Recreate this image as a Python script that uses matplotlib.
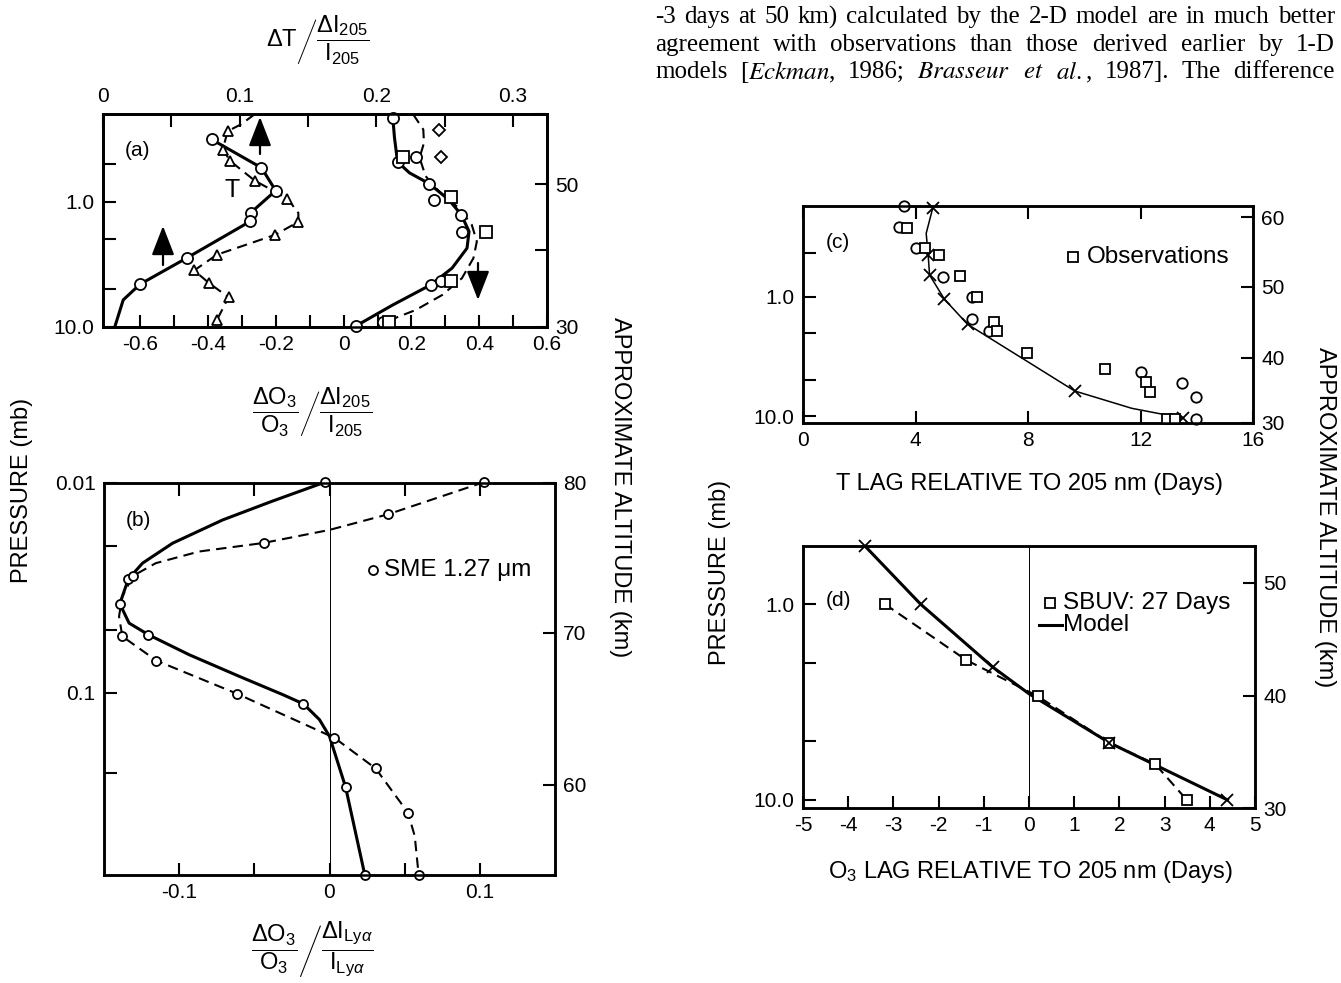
import matplotlib
matplotlib.use('Agg')
import matplotlib.pyplot as plt
from matplotlib.ticker import NullLocator

plt.rcParams['font.family'] = ['Liberation Sans', 'DejaVu Sans']
plt.rcParams['mathtext.fontset'] = 'custom'
plt.rcParams['mathtext.rm'] = 'Liberation Sans'
plt.rcParams['mathtext.it'] = 'Liberation Sans:italic'
plt.rcParams['mathtext.bf'] = 'Liberation Sans:bold'
plt.rcParams['xtick.direction'] = 'in'
plt.rcParams['ytick.direction'] = 'in'
plt.rcParams['axes.linewidth'] = 1.8

# ---- panel (a): temperature response (top axis) ----
a_tmod_val = [0.0795, 0.116, 0.1264, 0.108, 0.1076, 0.0612, 0.0271, 0.0148, 0.0086]
a_tmod_p = [0.319, 0.537, 0.817, 1.23, 1.44, 2.82, 4.56, 6.08, 10.0]
a_tobs_val = [0.111, 0.101, 0.0913, 0.0876, 0.0933, 0.111, 0.135, 0.143, 0.143,
              0.126, 0.0834, 0.0667, 0.0778, 0.0919, 0.0834]
a_tobs_p = [0.201, 0.242, 0.274, 0.384, 0.476, 0.679, 0.946, 1.23, 1.45,
            1.84, 2.65, 3.54, 4.48, 5.79, 8.79]

# ---- panel (a): ozone response (bottom axis) ----
a_omod_val = [0.130, 0.145, 0.150, 0.159, 0.194, 0.252, 0.310, 0.347, 0.370,
              0.364, 0.320, 0.257, 0.145, 0.036]
a_omod_p = [0.201, 0.214, 0.309, 0.481, 0.589, 0.718, 0.964, 1.27, 1.73,
            2.35, 3.39, 4.61, 6.67, 9.82]
a_odash_val = [0.205, 0.235, 0.237, 0.224, 0.242, 0.281, 0.339, 0.378, 0.393,
               0.383, 0.349, 0.291, 0.213, 0.125]
a_odash_p = [0.201, 0.266, 0.34, 0.447, 0.627, 0.827, 1.12, 1.53, 2.08,
             2.82, 4.08, 5.55, 7.31, 9.06]
a_circ_val = [0.145, 0.159, 0.213, 0.252, 0.266, 0.347, 0.349, 0.257, 0.286, 0.116, 0.036]
a_circ_p = [0.214, 0.481, 0.442, 0.718, 0.964, 1.27, 1.76, 4.61, 4.29, 9.17, 9.82]
a_sq_val = [0.174, 0.318, 0.419, 0.318, 0.135]
a_sq_p = [0.442, 0.917, 1.75, 4.26, 9.17]
a_dia_val = [0.281, 0.286]
a_dia_p = [0.270, 0.442]

# ---- panel (b): Lyman alpha response ----
b_mod_val = [-0.0029, -0.0389, -0.0711, -0.1044, -0.1244, -0.1338, -0.1395, -0.1333,
             -0.1205, -0.0933, -0.06, -0.0311, -0.0173, -0.0067, 0.0, 0.0107, 0.0235]
b_mod_p = [0.0099, 0.01227, 0.0150, 0.01936, 0.0241, 0.0287, 0.0376, 0.0465,
           0.0528, 0.0658, 0.0834, 0.1019, 0.1128, 0.134, 0.161, 0.281, 0.737]
b_sme_val = [0.1029, 0.0389, 0.0, -0.0438, -0.0867, -0.1156, -0.1307, -0.1378, -0.14,
             -0.1378, -0.1151, -0.0618, 0.0033, 0.0307, 0.0522, 0.0567, 0.0593]
b_sme_p = [0.0099, 0.0141, 0.01673, 0.0193, 0.0212, 0.0241, 0.0277, 0.0347, 0.0432,
           0.0538, 0.0702, 0.1007, 0.1637, 0.229, 0.372, 0.481, 0.737]

# ---- panel (c): T lag ----
c_mod_days = [4.61, 4.38, 4.45, 4.50, 5.03, 5.85, 7.80, 9.66, 11.69, 13.52]
c_mod_p = [0.182, 0.295, 0.448, 0.658, 1.05, 1.70, 3.28, 6.15, 8.59, 10.4]
c_circ_days = [3.59, 3.43, 4.02, 4.99, 6.01, 6.01, 6.60, 12.03, 13.46, 13.96, 13.96]
c_circ_p = [0.174, 0.26, 0.394, 0.689, 1.01, 1.55, 1.93, 4.29, 5.3, 6.95, 10.6]
c_sq_days = [3.69, 4.32, 4.83, 5.59, 6.17, 6.80, 6.88, 7.98, 10.73, 12.19, 12.32, 12.93, 13.22]
c_sq_p = [0.268, 0.394, 0.448, 0.671, 1.01, 1.62, 1.94, 2.94, 4.03, 5.2, 6.31, 10.6, 10.6]

# ---- panel (d): O3 lag ----
d_mod_days = [-3.63, -2.40, -0.80, 0.0, 1.78, 4.39]
d_mod_p = [0.505, 1.0, 2.10, 2.87, 5.11, 10.0]
d_sbuv_days = [-3.19, -1.39, 0.19, 1.78, 2.79, 3.49]
d_sbuv_p = [1.0, 1.93, 2.95, 5.11, 6.56, 10.0]

W, H = 1341, 983
fig = plt.figure(figsize=(W / 100, H / 100), dpi=100)

TICK_FS = 15
LEG_FS = 17.5
LAB_FS = 17


def box(x0, y0, x1, y1):
    return [x0 / W, 1 - y1 / H, (x1 - x0) / W, (y1 - y0) / H]


def px(x, y):
    return (x / W, 1 - y / H)


def ticks(ax, length=9):
    ax.tick_params(which='both', length=length, width=1.5, labelsize=TICK_FS, pad=6)


def pressure(ax, bottom, top, pos, labels):
    ax.set_yscale('log')
    ax.set_ylim(bottom, top)
    ax.set_yticks(pos, labels)
    ax.yaxis.set_minor_locator(NullLocator())


def altitude(ax, bottom, top, pos, labels):
    r = ax.twinx()
    pressure(r, bottom, top, pos, labels)
    ticks(r)
    return r


open_m = dict(mfc='white', mec='k', mew=1.3, clip_on=False)

# ================= panel (a) =================
ax_a = fig.add_axes(box(103, 114, 547, 327))
ax_a.set_xlim(-0.71, 0.6)
xa = [-0.6, -0.5, -0.4, -0.3, -0.2, -0.1, 0, 0.1, 0.2, 0.3, 0.4, 0.5, 0.6]
ax_a.set_xticks(xa, ['-0.6', '', '-0.4', '', '-0.2', '', '0', '', '0.2', '', '0.4', '', '0.6'])
pressure(ax_a, 10, 0.2, [0.5, 1, 2, 5, 10], ['', '1.0', '', '', '10.0'])
ticks(ax_a)
ax_top = ax_a.twiny()
ax_top.set_xlim(0, 0.325)
ax_top.set_xticks([0, 0.05, 0.1, 0.15, 0.2, 0.25, 0.3], ['0', '', '0.1', '', '0.2', '', '0.3'])
ticks(ax_top)
altitude(ax_a, 10, 0.2, [10, 2.45, 0.73, 0.2], ['30', '', '50', ''])

ax_top.plot(a_tmod_val, a_tmod_p, '-', color='k', lw=2.2, zorder=2)
ax_top.plot(a_tmod_val[:7], a_tmod_p[:7], 'o', ms=8, zorder=3, **open_m)
ax_top.plot(a_tobs_val, a_tobs_p, '--', color='k', lw=1.5, dashes=(5, 3), zorder=2)
tri = [2, 3, 4, 5, 6, 8, 9, 10, 11, 12, 13, 14]
ax_top.plot([a_tobs_val[i] for i in tri], [a_tobs_p[i] for i in tri], '^', ms=7, zorder=3, **open_m)

ax_top.plot(a_odash_val, a_odash_p, '--', color='k', lw=1.5, dashes=(5, 3), zorder=2,
            transform=ax_a.transData)
ax_top.plot(a_omod_val, a_omod_p, '-', color='k', lw=2.2, zorder=2, transform=ax_a.transData)
ax_top.plot(a_circ_val, a_circ_p, 'o', ms=8, zorder=3, transform=ax_a.transData, **open_m)
ax_top.plot(a_sq_val, a_sq_p, 's', ms=8, zorder=3, transform=ax_a.transData, **open_m)
ax_top.plot(a_dia_val, a_dia_p, 'D', ms=6.5, zorder=3, transform=ax_a.transData, **open_m)

fig.text(*px(125, 150), '(a)', fontsize=15, va='center')
fig.text(*px(232, 190), 'T', fontsize=18, va='center', ha='center')
arrow = dict(arrowstyle='-|>,head_length=0.9,head_width=0.35', lw=1.6, color='k',
             mutation_scale=20, shrinkA=0, shrinkB=0)
for tail, head in [((260, 154), (260, 117)), ((163, 265), (163, 226)), ((478, 263), (478, 300))]:
    fig.add_artist(matplotlib.patches.FancyArrowPatch(px(*tail), px(*head),
                   transform=fig.transFigure, **arrow))

fig.text(*px(318, 40), r'$\Delta\mathrm{T}\left/\dfrac{\Delta\mathrm{I}_{205}}{\mathrm{I}_{205}}\right.$',
         fontsize=17, ha='center', va='center')
fig.text(*px(312, 412), r'$\dfrac{\Delta\mathrm{O}_3}{\mathrm{O}_3}\left/\dfrac{\Delta\mathrm{I}_{205}}{\mathrm{I}_{205}}\right.$',
         fontsize=17, ha='center', va='center')

# ================= panel (b) =================
ax_b = fig.add_axes(box(104, 483, 555, 875))
ax_b.set_xlim(-0.15, 0.15)
ax_b.set_xticks([-0.1, -0.05, 0, 0.05, 0.1], ['-0.1', '', '0', '', '0.1'])
ax_b.tick_params(top=True)
pressure(ax_b, 0.737, 0.01, [0.01, 0.02, 0.05, 0.1, 0.24], ['0.01', '', '', '0.1', ''])
ticks(ax_b)
altitude(ax_b, 0.737, 0.01, [0.01, 0.0517, 0.274], ['80', '70', '60'])
ax_b.axvline(0, color='k', lw=0.7)
ax_b.plot(b_mod_val, b_mod_p, '-', color='k', lw=2.2, zorder=2)
mi = [0, 5, 6, 8, 12, 15, 16]
ax_b.plot([b_mod_val[i] for i in mi], [b_mod_p[i] for i in mi], 'o', ms=6.5, zorder=3, **open_m)
ax_b.plot(b_sme_val, b_sme_p, '--', color='k', lw=1.5, dashes=(5, 3), zorder=2)
si = [0, 1, 3, 6, 9, 10, 11, 12, 13, 14, 16]
ax_b.plot([b_sme_val[i] for i in si], [b_sme_p[i] for i in si], 'o', ms=6.5, zorder=3, **open_m)
ax_b.plot([0.596], [0.778], 'o', ms=6.5, transform=ax_b.transAxes, **open_m)
ax_b.text(0.621, 0.778, 'SME 1.27 \u03bcm', fontsize=LEG_FS, va='center', transform=ax_b.transAxes)
fig.text(*px(126, 520), '(b)', fontsize=15, va='center')
fig.text(*px(312, 950), r'$\dfrac{\Delta\mathrm{O}_3}{\mathrm{O}_3}\left/\dfrac{\Delta\mathrm{I}_{\mathrm{Ly}\alpha}}{\mathrm{I}_{\mathrm{Ly}\alpha}}\right.$',
         fontsize=17, ha='center', va='center')

fig.text(*px(22, 490), 'PRESSURE (mb)', fontsize=LAB_FS, rotation=90, ha='center', va='center')
fig.text(*px(620, 487), 'APPROXIMATE ALTITUDE (km)', fontsize=LAB_FS, rotation=270,
         ha='center', va='center')

# ================= panel (c) =================
ax_c = fig.add_axes(box(803, 206, 1253, 423))
ax_c.set_xlim(0, 16)
ax_c.set_xticks([0, 4, 8, 12, 16], ['0', '4', '8', '12', '16'])
ax_c.tick_params(top=True)
pressure(ax_c, 11.4, 0.174, [0.43, 1, 2, 5, 10], ['', '1.0', '', '', '10.0'])
ticks(ax_c)
altitude(ax_c, 11.4, 0.174, [0.217, 0.825, 3.24, 11.4], ['60', '50', '40', '30'])
ax_c.plot(c_mod_days, c_mod_p, '-', color='k', lw=1.1, zorder=2)
xi = [0, 2, 3, 4, 5, 7, 9]
ax_c.plot([c_mod_days[i] for i in xi], [c_mod_p[i] for i in xi], 'x', color='k', ms=8,
          mew=1.3, zorder=3, clip_on=False)
ax_c.plot(c_circ_days, c_circ_p, 'o', ms=7.5, zorder=3, **open_m)
ax_c.plot(c_sq_days, c_sq_p, 's', ms=7.5, zorder=3, **open_m)
ax_c.plot([0.6], [0.765], 's', ms=6.5, transform=ax_c.transAxes, **open_m)
ax_c.text(0.63, 0.765, 'Observations', fontsize=LEG_FS, va='center', transform=ax_c.transAxes)
fig.text(*px(826, 242), '(c)', fontsize=15, va='center')
fig.text(*px(1030, 484), 'T LAG RELATIVE TO 205 nm (Days)', fontsize=LAB_FS, ha='center', va='center')

# ================= panel (d) =================
ax_d = fig.add_axes(box(803, 546, 1255, 808))
ax_d.set_xlim(-5, 5)
ax_d.set_xticks(range(-5, 6), [str(v) for v in range(-5, 6)])
pressure(ax_d, 11.0, 0.505, [1, 2, 5, 10], ['1.0', '', '', '10.0'])
ticks(ax_d)
altitude(ax_d, 11.0, 0.505, [0.777, 2.94, 11.0], ['50', '40', '30'])
ax_d.axvline(0, color='k', lw=0.7)
ax_d.plot(d_sbuv_days, d_sbuv_p, '--', color='k', lw=1.5, dashes=(5, 3), zorder=2)
ax_d.plot(d_sbuv_days, d_sbuv_p, 's', ms=7.5, zorder=3, **open_m)
ax_d.plot(d_mod_days, d_mod_p, '-', color='k', lw=2.2, zorder=2)
di = [0, 1, 2, 4, 5]
ax_d.plot([d_mod_days[i] for i in di], [d_mod_p[i] for i in di], 'x', color='k', ms=8,
          mew=1.3, zorder=4, clip_on=False)
ax_d.plot([0.546], [0.782], 's', ms=6.5, transform=ax_d.transAxes, **open_m)
ax_d.text(0.575, 0.782, 'SBUV: 27 Days', fontsize=LEG_FS, va='center', transform=ax_d.transAxes)
ax_d.plot([0.522, 0.572], [0.698, 0.698], '-', color='k', lw=2.2, transform=ax_d.transAxes)
ax_d.text(0.575, 0.698, 'Model', fontsize=LEG_FS, va='center', transform=ax_d.transAxes)
fig.text(*px(826, 600), '(d)', fontsize=15, va='center')
fig.text(*px(1030, 872), r'O$_3$ LAG RELATIVE TO 205 nm (Days)', fontsize=LAB_FS, ha='center', va='center')

fig.text(*px(720, 572), 'PRESSURE (mb)', fontsize=LAB_FS, rotation=90, ha='center', va='center')
fig.text(*px(1325, 517), 'APPROXIMATE ALTITUDE (km)', fontsize=LAB_FS, rotation=270,
         ha='center', va='center')

# ---- running text of the page, justified between two margins ----
page_lines = [
    '-3 days at 50 km) calculated by the 2-D model are in much better',
    'agreement with observations than those derived earlier by 1-D',
    r'models [$\it{Eckman}$, 1986; $\it{Brasseur}$ $\it{et}$ $\it{al.}$, 1987].  The difference',
]
renderer = fig.canvas.get_renderer()
for line, y in zip(page_lines, [17, 45, 72]):
    words = line.split()
    objs = [fig.text(0, 0, w, fontsize=18, family='Liberation Serif', math_fontfamily='stix',
                     va='center') for w in words]
    widths = [o.get_window_extent(renderer).width for o in objs]
    gap = max(3, (1335 - 655 - sum(widths)) / (len(words) - 1))
    x = 655
    for o, w in zip(objs, widths):
        o.set_position(px(x, y))
        x += w + gap

fig.savefig('out.png', dpi=100)
